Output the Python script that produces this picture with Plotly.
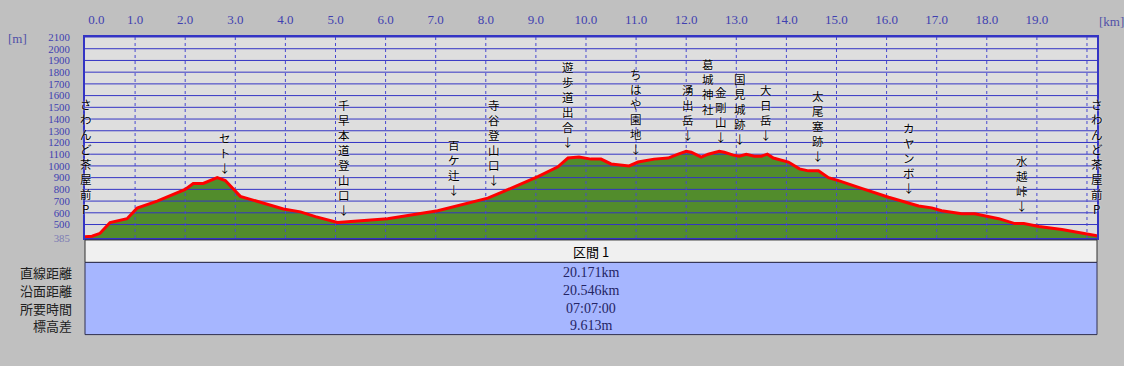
import plotly.graph_objects as go

# ---------------- data ----------------
dist_km = [0.0, 0.14, 0.3, 0.5, 0.84, 1.04, 1.44, 2.0, 2.16, 2.36, 2.64, 2.8, 3.1, 3.44,
           3.96, 4.3, 4.6, 5.04, 5.56, 6.04, 7.04, 7.44, 8.04, 8.36, 9.04, 9.44, 9.64,
           9.86, 10.1, 10.3, 10.5, 10.86, 11.04, 11.36, 11.64, 11.84, 12.0, 12.1, 12.3,
           12.44, 12.66, 12.76, 12.94, 13.06, 13.2, 13.36, 13.5, 13.62, 13.74, 14.04,
           14.26, 14.44, 14.64, 14.84, 15.04, 15.5, 16.04, 16.64, 16.9, 17.1, 17.5,
           17.76, 18.1, 18.24, 18.56, 18.74, 19.04, 19.5, 20.2]
elev_m = [395, 400, 425, 517, 550, 640, 700, 800, 850, 850, 900, 875, 740, 700,
          633, 608, 567, 517, 533, 550, 617, 658, 725, 783, 908, 992, 1067,
          1075, 1058, 1058, 1017, 1000, 1033, 1058, 1067, 1100, 1125, 1117, 1075,
          1100, 1125, 1117, 1092, 1083, 1100, 1083, 1083, 1100, 1067, 1033,
          975, 958, 958, 900, 875, 808, 733, 658, 642, 617, 592,
          592, 558, 550, 508, 508, 483, 458, 405]

place_names = ["さわんど茶屋前P", "セト", "千早本道登山口", "百ケ辻", "寺谷登山口", "遊歩道出合",
               "ちはや園地", "湧出岳", "葛城神社", "金剛山", "国見城跡", "大日岳", "太尾塞跡",
               "カヤンボ", "水越峠", "さわんど茶屋前P"]
place_km = [0.0, 2.8, 5.16, 7.36, 8.16, 9.64, 11.0, 12.04, 12.44, 12.7, 13.08, 13.6,
            14.64, 16.44, 18.7, 20.2]
place_arrow = [False, True, True, True, True, True, True, True, False, True, True, True,
               True, True, True, False]
label_tip_m = [558, 908, 550, 717, 800, 1124, 1066, 1183, 1408, 1166, 1149, 1191,
               1008, 733, 583, 558]

x_ticks = list(range(0, 21))
x_ticktext = [f"{v:.1f}" for v in range(0, 20)] + [""]
y_ticks = [385] + list(range(500, 2200, 100))

section_title = "区間 1"
row_labels = ["直線距離", "沿面距離", "所要時間", "標高差"]
row_values = ["20.171km", "20.546km", "07:07:00", "9.613m"]

X_MAX = 20.2
Y_MIN, Y_MAX = 385, 2100

# ---------------- styling helpers ----------------
W, H = 1124, 366
L, R, T, B = 85, 27, 32, 128
PW, PH = W - L - R, H - T - B


def px(p):
    return (p - L) / PW


def py(p):
    return (H - B - p) / PH


BLUE = "#3434c4"
SERIF = "Liberation Serif, DejaVu Serif, serif"
JP = "Noto Sans CJK JP, sans-serif"

fig = go.Figure()

# green fill
fig.add_trace(go.Scatter(x=dist_km, y=elev_m, mode="lines", line=dict(width=0),
                         fill="tozeroy", fillcolor="#528c2c", hoverinfo="skip",
                         showlegend=False))

# horizontal grid lines drawn over the fill
gx, gy = [], []
for v in y_ticks[1:]:
    gx += [0, X_MAX, None]
    gy += [v, v, None]
fig.add_trace(go.Scatter(x=gx, y=gy, mode="lines", line=dict(color=BLUE, width=1),
                         hoverinfo="skip", showlegend=False))
# vertical dotted grid lines
vx, vy = [], []
for v in x_ticks[1:]:
    vx += [v, v, None]
    vy += [Y_MIN, Y_MAX, None]
fig.add_trace(go.Scatter(x=vx, y=vy, mode="lines",
                         line=dict(color="#4848d0", width=1, dash="dot"),
                         hoverinfo="skip", showlegend=False))

# red profile line
fig.add_trace(go.Scatter(x=dist_km, y=elev_m, mode="lines",
                         line=dict(color="#ff0000", width=3),
                         hoverinfo="skip", showlegend=False))

annotations = []
for k, (name, km, arrow, tip) in enumerate(zip(place_names, place_km, place_arrow, label_tip_m)):
    txt = "<br>".join(list(name) + (["↓"] if arrow else []))
    first = k == 0
    annotations.append(dict(x=km, y=tip, xref="x", yref="y", text=txt, showarrow=False,
                            xanchor="left" if first else "center",
                            xshift=-6 if first else 0,
                            yanchor="bottom", borderpad=0,
                            font=dict(family=JP, size=11.5, color="black",
                                      shadow="0px 0px 2px white")))

# units
annotations.append(dict(x=px(17), y=py(34), xref="paper", yref="paper", text="[m]",
                        showarrow=False, xanchor="center", yanchor="middle",
                        font=dict(family=SERIF, size=13, color="#5050a8")))
annotations.append(dict(x=px(1111), y=py(16), xref="paper", yref="paper", text="[km]",
                        showarrow=False, xanchor="center", yanchor="middle",
                        font=dict(family=SERIF, size=13, color="#5050a8")))

# table
shapes = [
    dict(type="rect", xref="paper", yref="paper", x0=0, x1=1, y0=py(263), y1=py(240),
         fillcolor="#f0f0f0", line=dict(color="#303030", width=1), layer="above"),
    dict(type="rect", xref="paper", yref="paper", x0=0, x1=1, y0=py(337), y1=py(263),
         fillcolor="#a6b6ff", line=dict(color="#303050", width=1), layer="above"),
]
annotations.append(dict(x=px(591), y=py(252), xref="paper", yref="paper", text=section_title,
                        showarrow=False, xanchor="center", yanchor="middle",
                        font=dict(family=JP, size=13, color="black")))
row_y = [273, 292, 310, 328]
for lab, val, yy in zip(row_labels, row_values, row_y):
    annotations.append(dict(x=px(74), y=py(yy), xref="paper", yref="paper", text=lab,
                            showarrow=False, xanchor="right", yanchor="middle",
                            font=dict(family=JP, size=13, color="#202020")))
    annotations.append(dict(x=px(591), y=py(yy), xref="paper", yref="paper", text=val,
                            showarrow=False, xanchor="center", yanchor="middle",
                            font=dict(family=SERIF, size=14, color="#242464")))

y_ticktext = ["<span style='color:#7c7cb4'>385</span>"] + [str(v) for v in y_ticks[1:]]
x_ticktext[0] = "\u00a0" * 7 + x_ticktext[0]

fig.update_layout(
    width=W, height=H,
    margin=dict(l=L, r=R, t=T, b=B, pad=0),
    paper_bgcolor="#c0c0c0",
    plot_bgcolor="#dedede",
    showlegend=False,
    xaxis=dict(range=[0, X_MAX], side="top", tickvals=x_ticks, ticktext=x_ticktext,
               showgrid=False, zeroline=False, ticks="outside", ticklen=6,
               tickcolor="rgba(0,0,0,0)",
               tickfont=dict(family=SERIF, size=13, color="#4040b0"),
               showline=True, mirror=True, linecolor=BLUE, linewidth=2),
    yaxis=dict(range=[Y_MIN, Y_MAX], tickvals=y_ticks, ticktext=y_ticktext,
               showgrid=False, zeroline=False, ticks="outside", ticklen=11,
               tickcolor="rgba(0,0,0,0)",
               tickfont=dict(family=SERIF, size=10.8, color="#4040b0"),
               showline=True, mirror=True, linecolor=BLUE, linewidth=2),
    annotations=annotations,
    shapes=shapes,
)

fig.write_html("out.html",
               config={"displayModeBar": False},
               post_script="document.body.style.margin='0px';"
                           "document.body.style.overflow='hidden';"
                           "document.body.style.background='#c0c0c0';")
